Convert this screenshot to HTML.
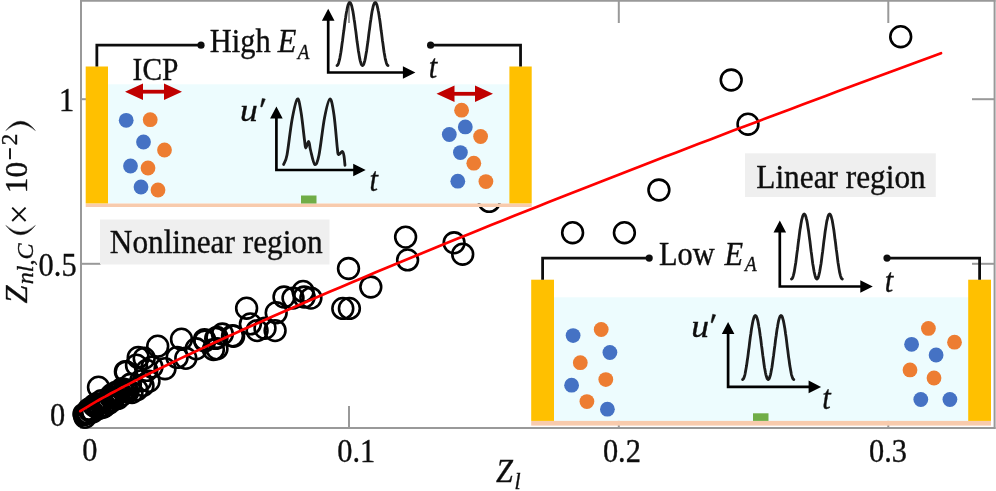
<!DOCTYPE html>
<html><head><meta charset="utf-8"><title>Figure</title>
<style>
html,body{margin:0;padding:0;background:#fff;}
body{width:996px;height:491px;overflow:hidden;font-family:"Liberation Serif",serif;}
svg{display:block;}
</style></head><body>
<svg width="996" height="491" viewBox="0 0 996 491">
<defs><filter id="soft" x="0" y="0" width="996" height="491" filterUnits="userSpaceOnUse"><feGaussianBlur stdDeviation="0.7"/></filter></defs>
<rect width="996" height="491" fill="#fff"/>
<g filter="url(#soft)">
<rect x="-5" y="-5" width="1006" height="501" fill="#fff"/>
<g stroke="#999999" stroke-width="2" fill="none">
<path d="M80 0.8 H995.5"/>
<path d="M81 0 V428"/>
<path d="M80 427.9 H995.5"/>
<path d="M994.6 0 V428.9"/>
<path d="M349 428 V406"/>
<path d="M349 0 V23"/>
<path d="M618.8 428 V406"/>
<path d="M618.8 0 V23"/>
<path d="M888.3 428 V406"/>
<path d="M888.3 0 V23"/>
<path d="M81 99.2 H101"/>
<path d="M994.6 99.2 H972"/>
<path d="M81 263.8 H101"/>
<path d="M994.6 263.8 H972"/>
</g>
<g fill="none" stroke="#000" stroke-width="2.6">
<circle cx="900.7" cy="36.7" r="10.4"/>
<circle cx="731.2" cy="80" r="10.4"/>
<circle cx="748" cy="124.2" r="10.4"/>
<circle cx="658.9" cy="190" r="10.4"/>
<circle cx="572.6" cy="232.7" r="10.4"/>
<circle cx="624.4" cy="232.7" r="10.4"/>
<circle cx="489.2" cy="201.4" r="10.4"/>
<circle cx="454.1" cy="242.8" r="10.4"/>
<circle cx="462.7" cy="254.2" r="10.4"/>
<circle cx="405.6" cy="237.1" r="10.4"/>
<circle cx="407.6" cy="259.9" r="10.4"/>
<circle cx="348.5" cy="268.5" r="10.4"/>
<circle cx="370.8" cy="287" r="10.4"/>
<circle cx="342.8" cy="308.4" r="10.4"/>
<circle cx="349.4" cy="308.4" r="10.4"/>
<circle cx="246.6" cy="308.2" r="10.4"/>
<circle cx="250.4" cy="323.9" r="10.4"/>
<circle cx="257.1" cy="330.6" r="10.4"/>
<circle cx="265" cy="328.3" r="10.4"/>
<circle cx="275.1" cy="330.6" r="10.4"/>
<circle cx="276.2" cy="312.7" r="10.4"/>
<circle cx="284" cy="297" r="10.4"/>
<circle cx="293" cy="298.1" r="10.4"/>
<circle cx="303.1" cy="291.4" r="10.4"/>
<circle cx="304.2" cy="297" r="10.4"/>
<circle cx="310.9" cy="298.1" r="10.4"/>
<circle cx="233.6" cy="336.2" r="10.4"/>
<circle cx="215.7" cy="338.4" r="10.4"/>
<circle cx="213.4" cy="349.6" r="10.4"/>
<circle cx="204.5" cy="339.6" r="10.4"/>
<circle cx="222.4" cy="334" r="10.4"/>
<circle cx="157.7" cy="346.2" r="10.4"/>
<circle cx="181.5" cy="339.2" r="10.4"/>
<circle cx="138.2" cy="357.4" r="10.4"/>
<circle cx="144.2" cy="358.3" r="10.4"/>
<circle cx="126" cy="372" r="10.4"/>
<circle cx="146.8" cy="370.4" r="10.4"/>
<circle cx="165" cy="368.7" r="10.4"/>
<circle cx="177.1" cy="357.4" r="10.4"/>
<circle cx="185.8" cy="358.3" r="10.4"/>
<circle cx="196.2" cy="348.8" r="10.4"/>
<circle cx="204.8" cy="341" r="10.4"/>
<circle cx="217" cy="348.8" r="10.4"/>
<circle cx="217" cy="337.5" r="10.4"/>
<circle cx="232.5" cy="335.8" r="10.4"/>
<circle cx="136.5" cy="365.2" r="10.4"/>
<circle cx="152" cy="367" r="10.4"/>
<circle cx="130.4" cy="384.3" r="10.4"/>
<circle cx="140.8" cy="380.8" r="10.4"/>
<circle cx="98.5" cy="387.2" r="10.4"/>
<circle cx="125.4" cy="371.6" r="10.4"/>
<circle cx="84.0" cy="414.1" r="10.4"/>
<circle cx="84.4" cy="414.7" r="10.4"/>
<circle cx="85.0" cy="417.3" r="10.4"/>
<circle cx="85.8" cy="413.2" r="10.4"/>
<circle cx="86.7" cy="413.0" r="10.4"/>
<circle cx="87.8" cy="413.0" r="10.4"/>
<circle cx="88.8" cy="409.2" r="10.4"/>
<circle cx="90.0" cy="411.1" r="10.4"/>
<circle cx="91.3" cy="411.3" r="10.4"/>
<circle cx="92.6" cy="411.9" r="10.4"/>
<circle cx="93.9" cy="405.5" r="10.4"/>
<circle cx="95.3" cy="406.4" r="10.4"/>
<circle cx="96.8" cy="403.8" r="10.4"/>
<circle cx="98.3" cy="408.7" r="10.4"/>
<circle cx="99.9" cy="406.8" r="10.4"/>
<circle cx="101.5" cy="400.7" r="10.4"/>
<circle cx="103.1" cy="407.3" r="10.4"/>
<circle cx="104.8" cy="406.1" r="10.4"/>
<circle cx="106.6" cy="402.6" r="10.4"/>
<circle cx="108.3" cy="401.3" r="10.4"/>
<circle cx="110.2" cy="396.6" r="10.4"/>
<circle cx="112.0" cy="394.4" r="10.4"/>
<circle cx="113.9" cy="397.4" r="10.4"/>
<circle cx="115.8" cy="392.5" r="10.4"/>
<circle cx="117.8" cy="392.4" r="10.4"/>
<circle cx="119.7" cy="391.7" r="10.4"/>
<circle cx="121.8" cy="388.8" r="10.4"/>
<circle cx="123.8" cy="391.1" r="10.4"/>
<circle cx="125.9" cy="389.7" r="10.4"/>
<circle cx="128.0" cy="391.7" r="10.4"/>
<circle cx="104" cy="405.4" r="10.4"/>
<circle cx="109" cy="403.3" r="10.4"/>
<circle cx="113" cy="400.3" r="10.4"/>
<circle cx="118" cy="398.4" r="10.4"/>
<circle cx="122" cy="395.0" r="10.4"/>
<circle cx="127" cy="391.1" r="10.4"/>
<circle cx="132" cy="392.6" r="10.4"/>
<circle cx="137" cy="389.8" r="10.4"/>
<circle cx="143" cy="385.5" r="10.4"/>
<circle cx="149" cy="381.3" r="10.4"/>
</g>
<path d="M80.3 411.2 L82.8 409.6 L85.3 408.1 L87.8 406.6 L90.2 405.1 L92.7 403.6 L95.2 402.2 L97.7 400.7 L100.2 399.3 L102.7 397.9 L105.2 396.6 L107.7 395.2 L110.2 393.8 L112.6 392.5 L115.1 391.2 L117.6 389.9 L120.1 388.5 L122.6 387.2 L125.1 385.9 L127.6 384.7 L130.1 383.4 L132.5 382.1 L135.0 380.8 L137.5 379.6 L140.0 378.3 L145.0 375.8 L156.5 370.1 L168.1 364.5 L179.6 358.9 L191.1 353.5 L202.7 348.1 L214.2 342.8 L225.8 337.5 L237.3 332.3 L248.8 327.1 L260.4 321.9 L271.9 316.8 L283.4 311.8 L295.0 306.7 L306.5 301.7 L318.0 296.8 L329.6 291.8 L341.1 286.9 L352.7 282.0 L364.2 277.2 L375.7 272.3 L387.3 267.5 L398.8 262.7 L410.3 258.0 L421.9 253.2 L433.4 248.5 L444.9 243.8 L456.5 239.1 L468.0 234.4 L479.6 229.7 L491.1 225.1 L502.6 220.5 L514.2 215.8 L525.7 211.2 L537.2 206.7 L548.8 202.1 L560.3 197.5 L571.8 193.0 L583.4 188.5 L594.9 184.0 L606.4 179.4 L618.0 175.0 L629.5 170.5 L641.1 166.0 L652.6 161.5 L664.1 157.1 L675.7 152.7 L687.2 148.2 L698.7 143.8 L710.3 139.4 L721.8 135.0 L733.3 130.6 L744.9 126.3 L756.4 121.9 L768.0 117.5 L779.5 113.2 L791.0 108.9 L802.6 104.5 L814.1 100.2 L825.6 95.9 L837.2 91.6 L848.7 87.3 L860.2 83.0 L871.8 78.7 L883.3 74.4 L894.9 70.2 L906.4 65.9 L917.9 61.7 L929.5 57.4 L941.0 53.2" fill="none" stroke="#ff0000" stroke-width="2.7" stroke-linecap="round"/>
<rect x="107" y="84.3" width="403.4" height="119.10000000000001" fill="#edfcfe"/>
<rect x="85.7" y="203.5" width="446.00000000000006" height="3.5" fill="#f8cbad"/>
<rect x="85.7" y="66.5" width="22.299999999999997" height="136.9" fill="#ffc000"/>
<rect x="509.4" y="66.5" width="22.300000000000068" height="136.9" fill="#ffc000"/>
<rect x="301" y="195.5" width="15.5" height="8.0" fill="#70ad47"/>
<path d="M96.85 66.5 V45.2 H201" fill="none" stroke="#111" stroke-width="2.8"/>
<circle cx="201" cy="45.2" r="3.6" fill="#111"/>
<path d="M520.55 66.5 V45.2 H430.6" fill="none" stroke="#111" stroke-width="2.8"/>
<circle cx="430.6" cy="45.2" r="3.6" fill="#111"/>
<circle cx="126.2" cy="120.3" r="7.4" fill="#4472c4"/>
<circle cx="150.2" cy="119.7" r="7.4" fill="#ed7d31"/>
<circle cx="143.5" cy="142" r="7.4" fill="#4472c4"/>
<circle cx="164.5" cy="150" r="7.4" fill="#ed7d31"/>
<circle cx="130.5" cy="166" r="7.4" fill="#4472c4"/>
<circle cx="148" cy="168" r="7.4" fill="#ed7d31"/>
<circle cx="141" cy="187" r="7.4" fill="#4472c4"/>
<circle cx="158" cy="190" r="7.4" fill="#ed7d31"/>
<circle cx="461.6" cy="110.2" r="7.4" fill="#ed7d31"/>
<circle cx="465.3" cy="126.9" r="7.4" fill="#4472c4"/>
<circle cx="449.3" cy="134.5" r="7.4" fill="#4472c4"/>
<circle cx="480.6" cy="136.5" r="7.4" fill="#ed7d31"/>
<circle cx="460.4" cy="152.6" r="7.4" fill="#4472c4"/>
<circle cx="473.8" cy="163.2" r="7.4" fill="#ed7d31"/>
<circle cx="457.8" cy="181.2" r="7.4" fill="#4472c4"/>
<circle cx="485.9" cy="181.6" r="7.4" fill="#ed7d31"/>
<rect x="553" y="297.3" width="416.20000000000005" height="123.59999999999997" fill="#edfcfe"/>
<rect x="531.2" y="420.9" width="459.79999999999995" height="4.7000000000000455" fill="#f8cbad"/>
<rect x="531.2" y="279.7" width="22.799999999999955" height="141.2" fill="#ffc000"/>
<rect x="968.2" y="279.7" width="22.799999999999955" height="141.2" fill="#ffc000"/>
<rect x="753" y="413.3" width="15.5" height="7.599999999999966" fill="#70ad47"/>
<path d="M542.6 279.7 V258.1 H649.2" fill="none" stroke="#111" stroke-width="2.8"/>
<circle cx="649.2" cy="258.1" r="3.6" fill="#111"/>
<path d="M979.6 279.7 V258.1 H887" fill="none" stroke="#111" stroke-width="2.8"/>
<circle cx="887" cy="258.1" r="3.6" fill="#111"/>
<circle cx="573.1" cy="335.6" r="7.4" fill="#4472c4"/>
<circle cx="601.2" cy="329.5" r="7.4" fill="#ed7d31"/>
<circle cx="609.9" cy="352.5" r="7.4" fill="#4472c4"/>
<circle cx="580.3" cy="362.7" r="7.4" fill="#ed7d31"/>
<circle cx="571.6" cy="385.2" r="7.4" fill="#4472c4"/>
<circle cx="605.8" cy="379.6" r="7.4" fill="#ed7d31"/>
<circle cx="586.9" cy="401.6" r="7.4" fill="#ed7d31"/>
<circle cx="607.4" cy="409.2" r="7.4" fill="#4472c4"/>
<circle cx="928.4" cy="328.4" r="7.4" fill="#ed7d31"/>
<circle cx="911.6" cy="344.3" r="7.4" fill="#4472c4"/>
<circle cx="954.5" cy="342.2" r="7.4" fill="#ed7d31"/>
<circle cx="936.1" cy="355" r="7.4" fill="#4472c4"/>
<circle cx="910" cy="369.9" r="7.4" fill="#ed7d31"/>
<circle cx="934" cy="378" r="7.4" fill="#ed7d31"/>
<circle cx="920.8" cy="399.5" r="7.4" fill="#4472c4"/>
<circle cx="949.9" cy="399.5" r="7.4" fill="#4472c4"/>
<path d="M142 91.7 H165" stroke="#c00000" stroke-width="3.8" fill="none"/>
<path d="M125 91.7 L143 83.4 V100.0 Z M182 91.7 L164 83.4 V100.0 Z" fill="#c00000"/>
<path d="M453.5 93.8 H476" stroke="#c00000" stroke-width="3.8" fill="none"/>
<path d="M436.5 93.8 L454.5 85.5 V102.1 Z M493 93.8 L475 85.5 V102.1 Z" fill="#c00000"/>
<path d="M328.2 17.8 V72.5 H406.4" fill="none" stroke="#000" stroke-width="2.7" stroke-linejoin="miter"/>
<path d="M328.2 8.8 l-6.3 12 h12.6 Z M415.4 72.5 l-12.5 -6.3 v12.6 Z" fill="#000"/>
<path d="M337.0 65.5 L337.4 65.3 L337.9 64.8 L338.3 63.9 L338.7 62.7 L339.1 61.2 L339.6 59.4 L340.0 57.3 L340.4 54.9 L340.9 52.3 L341.3 49.5 L341.7 46.5 L342.1 43.4 L342.6 40.2 L343.0 36.9 L343.4 33.6 L343.9 30.3 L344.3 27.0 L344.7 23.8 L345.1 20.7 L345.6 17.8 L346.0 15.0 L346.4 12.5 L346.9 10.2 L347.3 8.1 L347.7 6.4 L348.1 4.9 L348.6 3.8 L349.0 3.0 L349.4 2.6 L349.9 2.5 L350.3 2.8 L350.7 3.4 L351.1 4.3 L351.6 5.6 L352.0 7.2 L352.4 9.1 L352.9 11.3 L353.3 13.7 L353.7 16.4 L354.1 19.2 L354.6 22.2 L355.0 25.4 L355.4 28.6 L355.9 31.9 L356.3 35.2 L356.7 38.6 L357.1 41.8 L357.6 45.0 L358.0 48.0 L358.4 50.9 L358.9 53.6 L359.3 56.1 L359.7 58.4 L360.1 60.3 L360.6 62.0 L361.0 63.4 L361.4 64.4 L361.9 65.1 L362.3 65.5 L362.7 65.5 L363.1 65.1 L363.6 64.4 L364.0 63.4 L364.4 62.0 L364.9 60.3 L365.3 58.4 L365.7 56.1 L366.1 53.6 L366.6 50.9 L367.0 48.0 L367.4 45.0 L367.9 41.8 L368.3 38.6 L368.7 35.2 L369.1 31.9 L369.6 28.6 L370.0 25.4 L370.4 22.2 L370.9 19.2 L371.3 16.4 L371.7 13.7 L372.1 11.3 L372.6 9.1 L373.0 7.2 L373.4 5.6 L373.9 4.3 L374.3 3.4 L374.7 2.8 L375.1 2.5 L375.6 2.6 L376.0 3.0 L376.4 3.8 L376.9 4.9 L377.3 6.4 L377.7 8.1 L378.1 10.2 L378.6 12.5 L379.0 15.0 L379.4 17.8 L379.9 20.7 L380.3 23.8 L380.7 27.0 L381.1 30.3 L381.6 33.6 L382.0 36.9 L382.4 40.2 L382.9 43.4 L383.3 46.5 L383.7 49.5 L384.1 52.3 L384.6 54.9 L385.0 57.3 L385.4 59.4 L385.9 61.2 L386.3 62.7 L386.7 63.9 L387.1 64.8 L387.6 65.3 L388.0 65.5" fill="none" stroke="#1a1a1a" stroke-width="2.8" stroke-linecap="round" stroke-linejoin="round"/>
<path d="M779.8 229.4 V286.5 H863.8" fill="none" stroke="#000" stroke-width="2.7" stroke-linejoin="miter"/>
<path d="M779.8 220.4 l-6.3 12 h12.6 Z M872.8 286.5 l-12.5 -6.3 v12.6 Z" fill="#000"/>
<path d="M791.5 279.0 L791.9 278.8 L792.4 278.3 L792.8 277.4 L793.2 276.1 L793.6 274.6 L794.1 272.7 L794.5 270.5 L794.9 268.1 L795.3 265.4 L795.8 262.5 L796.2 259.4 L796.6 256.2 L797.0 252.9 L797.5 249.5 L797.9 246.1 L798.3 242.6 L798.8 239.3 L799.2 236.0 L799.6 232.8 L800.0 229.8 L800.5 226.9 L800.9 224.3 L801.3 221.9 L801.7 219.8 L802.2 218.0 L802.6 216.5 L803.0 215.4 L803.5 214.6 L803.9 214.1 L804.3 214.0 L804.7 214.3 L805.2 214.9 L805.6 215.9 L806.0 217.2 L806.4 218.9 L806.9 220.8 L807.3 223.1 L807.7 225.6 L808.1 228.3 L808.6 231.3 L809.0 234.4 L809.4 237.6 L809.9 241.0 L810.3 244.4 L810.7 247.8 L811.1 251.2 L811.6 254.6 L812.0 257.8 L812.4 261.0 L812.8 264.0 L813.3 266.8 L813.7 269.3 L814.1 271.6 L814.6 273.7 L815.0 275.4 L815.4 276.8 L815.8 277.9 L816.3 278.6 L816.7 279.0 L817.1 279.0 L817.5 278.6 L818.0 277.9 L818.4 276.8 L818.8 275.4 L819.2 273.7 L819.7 271.6 L820.1 269.3 L820.5 266.8 L821.0 264.0 L821.4 261.0 L821.8 257.8 L822.2 254.6 L822.7 251.2 L823.1 247.8 L823.5 244.4 L823.9 241.0 L824.4 237.6 L824.8 234.4 L825.2 231.3 L825.7 228.3 L826.1 225.6 L826.5 223.1 L826.9 220.8 L827.4 218.9 L827.8 217.2 L828.2 215.9 L828.6 214.9 L829.1 214.3 L829.5 214.0 L829.9 214.1 L830.3 214.6 L830.8 215.4 L831.2 216.5 L831.6 218.0 L832.1 219.8 L832.5 221.9 L832.9 224.3 L833.3 226.9 L833.8 229.8 L834.2 232.8 L834.6 236.0 L835.0 239.3 L835.5 242.6 L835.9 246.1 L836.3 249.5 L836.8 252.9 L837.2 256.2 L837.6 259.4 L838.0 262.5 L838.5 265.4 L838.9 268.1 L839.3 270.5 L839.7 272.7 L840.2 274.6 L840.6 276.1 L841.0 277.4 L841.4 278.3 L841.9 278.8 L842.3 279.0" fill="none" stroke="#1a1a1a" stroke-width="2.8" stroke-linecap="round" stroke-linejoin="round"/>
<path d="M276.4 115.5 V170 H356.7" fill="none" stroke="#000" stroke-width="2.7" stroke-linejoin="miter"/>
<path d="M276.4 106.5 l-6.3 12 h12.6 Z M365.7 170 l-12.5 -6.3 v12.6 Z" fill="#000"/>
<path d="M283.6 164.5 C284.2 162.9 285.6 162.4 287 155 C288.4 147.6 290.3 129.3 292 120 C293.7 110.7 295.9 100.3 297.4 99 C298.9 97.7 299.8 105.2 301 112 C302.2 118.8 303.7 134.0 304.5 140 C305.3 146.0 305.1 147.8 305.8 148 C306.5 148.2 307.9 141.2 308.7 141.5 C309.5 141.8 309.5 146.2 310.5 150 C311.5 153.8 313.4 163.7 314.8 164.5 C316.2 165.3 317.4 162.8 319 155 C320.6 147.2 322.7 127.3 324.5 118 C326.3 108.7 328.3 99.5 329.9 99 C331.5 98.5 332.8 106.8 334 115 C335.2 123.2 336.6 141.4 337.3 148 C338.1 154.6 337.6 153.9 338.5 154.5 C339.4 155.1 341.5 151.2 342.4 151.5 C343.3 151.8 343.6 153.7 344 156 C344.4 158.3 344.8 163.8 345 165.3" fill="none" stroke="#1a1a1a" stroke-width="2.8" stroke-linecap="round" stroke-linejoin="round"/>
<path d="M728.1 331 V386.9 H812.1" fill="none" stroke="#000" stroke-width="2.7" stroke-linejoin="miter"/>
<path d="M728.1 322 l-6.3 12 h12.6 Z M821.1 386.9 l-12.5 -6.3 v12.6 Z" fill="#000"/>
<path d="M742.6 379.5 L743.0 379.3 L743.5 378.8 L743.9 377.9 L744.3 376.7 L744.8 375.1 L745.2 373.3 L745.6 371.1 L746.0 368.7 L746.5 366.1 L746.9 363.3 L747.3 360.2 L747.8 357.1 L748.2 353.8 L748.6 350.5 L749.1 347.1 L749.5 343.7 L749.9 340.4 L750.3 337.1 L750.8 334.0 L751.2 331.0 L751.6 328.2 L752.1 325.6 L752.5 323.3 L752.9 321.2 L753.4 319.4 L753.8 318.0 L754.2 316.8 L754.6 316.0 L755.1 315.6 L755.5 315.5 L755.9 315.8 L756.4 316.4 L756.8 317.4 L757.2 318.7 L757.7 320.3 L758.1 322.2 L758.5 324.4 L758.9 326.9 L759.4 329.6 L759.8 332.5 L760.2 335.5 L760.7 338.7 L761.1 342.0 L761.5 345.4 L762.0 348.8 L762.4 352.1 L762.8 355.4 L763.3 358.7 L763.7 361.8 L764.1 364.7 L764.5 367.5 L765.0 370.0 L765.4 372.3 L765.8 374.3 L766.3 376.0 L766.7 377.3 L767.1 378.4 L767.6 379.1 L768.0 379.5 L768.4 379.5 L768.8 379.1 L769.3 378.4 L769.7 377.3 L770.1 376.0 L770.6 374.3 L771.0 372.3 L771.4 370.0 L771.9 367.5 L772.3 364.7 L772.7 361.8 L773.1 358.7 L773.6 355.4 L774.0 352.1 L774.4 348.8 L774.9 345.4 L775.3 342.0 L775.7 338.7 L776.2 335.5 L776.6 332.5 L777.0 329.6 L777.5 326.9 L777.9 324.4 L778.3 322.2 L778.7 320.3 L779.2 318.7 L779.6 317.4 L780.0 316.4 L780.5 315.8 L780.9 315.5 L781.3 315.6 L781.8 316.0 L782.2 316.8 L782.6 318.0 L783.0 319.4 L783.5 321.2 L783.9 323.3 L784.3 325.6 L784.8 328.2 L785.2 331.0 L785.6 334.0 L786.1 337.1 L786.5 340.4 L786.9 343.7 L787.3 347.1 L787.8 350.5 L788.2 353.8 L788.6 357.1 L789.1 360.2 L789.5 363.3 L789.9 366.1 L790.4 368.7 L790.8 371.1 L791.2 373.3 L791.6 375.1 L792.1 376.7 L792.5 377.9 L792.9 378.8 L793.4 379.3 L793.8 379.5" fill="none" stroke="#1a1a1a" stroke-width="2.8" stroke-linecap="round" stroke-linejoin="round"/>
<rect x="100" y="219.5" width="229.5" height="45" fill="#efefef"/>
<rect x="745" y="153.3" width="190.8" height="43.7" fill="#efefef"/>
<g font-family="Liberation Serif, serif" fill="#111" stroke="#111" stroke-width="0.35">
<text transform="translate(109.8,252.9) scale(1,1.05)" font-size="31.3" text-anchor="start" style="" >Nonlinear region</text>
<text transform="translate(756.3,188.3) scale(1,1.05)" font-size="31.3" text-anchor="start" style="" >Linear region</text>
<text transform="translate(132.6,79.8) scale(1,1.08)" font-size="29.4" text-anchor="start" style="" >ICP</text>
<text transform="translate(209.8,51.6) scale(1,1.08)" font-size="30.4" text-anchor="start" style="" >High</text>
<text transform="translate(277.8,51.6) scale(1,1.08)" font-size="30.4" text-anchor="start" style="font-style:italic;" >E</text>
<text transform="translate(297.8,58.6) scale(1,1.08)" font-size="19" text-anchor="start" style="font-style:italic;" >A</text>
<text transform="translate(659,264.5) scale(1,1.08)" font-size="30.4" text-anchor="start" style="" >Low</text>
<text transform="translate(724.5,264.5) scale(1,1.08)" font-size="30.4" text-anchor="start" style="font-style:italic;" >E</text>
<text transform="translate(744.9,271.4) scale(1,1.08)" font-size="19" text-anchor="start" style="font-style:italic;" >A</text>
<text transform="translate(428.8,78.2) scale(1,1.08)" font-size="30.4" text-anchor="start" style="font-style:italic;" >t</text>
<text transform="translate(884.8,292.3) scale(1,1.08)" font-size="30.4" text-anchor="start" style="font-style:italic;" >t</text>
<text transform="translate(369.4,191.4) scale(1,1.08)" font-size="30.4" text-anchor="start" style="font-style:italic;" >t</text>
<text transform="translate(822.2,408.9) scale(1,1.08)" font-size="30.4" text-anchor="start" style="font-style:italic;" >t</text>
<text transform="translate(240,120.7) scale(1.17,1.06)" font-size="30.4" style="font-style:italic">u</text>
<path d="M262.3 98.4 L265.3 99.10000000000001 L262.0 107 L260.6 106.7 Z" fill="#111" stroke="#111" stroke-width="0.5" stroke-linejoin="round"/>
<text transform="translate(691.2,336.6) scale(1.17,1.06)" font-size="30.4" style="font-style:italic">u</text>
<path d="M712.7 314.2 L715.7 314.9 L712.4000000000001 322.8 L711.0 322.5 Z" fill="#111" stroke="#111" stroke-width="0.5" stroke-linejoin="round"/>
<text transform="translate(49.9,426.2) scale(1,1.08)" font-size="30.4" text-anchor="start" style="" >0</text>
<text transform="translate(38.6,275.9) scale(1,1.08)" font-size="30.4" text-anchor="start" style="" >0.5</text>
<text transform="translate(58.9,111.2) scale(1,1.08)" font-size="30.4" text-anchor="start" style="" >1</text>
<text transform="translate(82.3,461) scale(1,1.08)" font-size="30.4" text-anchor="start" style="" >0</text>
<text transform="translate(337.2,462.2) scale(1,1.08)" font-size="30.4" text-anchor="start" style="" >0.1</text>
<text transform="translate(602.9,462.2) scale(1,1.08)" font-size="30.4" text-anchor="start" style="" >0.2</text>
<text transform="translate(869,462.2) scale(1,1.08)" font-size="30.4" text-anchor="start" style="" >0.3</text>
<text transform="translate(496,482) scale(1,1.08)" font-size="30.4" text-anchor="start" style="font-style:italic;" >Z</text>
<text transform="translate(514.4,488.5) scale(1,1.08)" font-size="22" text-anchor="start" style="font-style:italic;" >l</text>
<g transform="rotate(-90)">
<text x="-303.6" y="26.6" font-size="32.3" style="font-style:italic;">Z</text>
<text x="-284.2" y="33" font-size="24" style="font-style:italic;">nl,C</text>
<text x="-193.2" y="26.6" font-size="31.5" style="">10</text>
<text x="-145.2" y="17.4" font-size="23" style="">2</text>
</g>
<path d="M5.8 225.4 Q20.6 244.2 35.4 225.4 Q20.6 238.8 5.8 225.4 Z" fill="#111"/>
<path d="M5.8 130.6 Q20.6 111.8 35.4 130.6 Q20.6 117.2 5.8 130.6 Z" fill="#111"/>
<path d="M12.2 207.6 L25.6 221 M25.6 207.6 L12.2 221" stroke="#111" stroke-width="1.9" fill="none"/>
<path d="M10 148.2 V159.2" stroke="#111" stroke-width="1.9" fill="none"/>
</g>
</g>
</svg>
</body></html>
